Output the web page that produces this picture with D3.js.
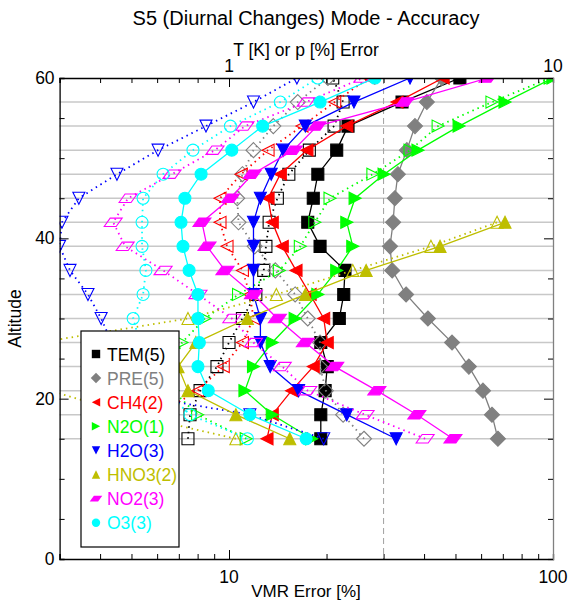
<!DOCTYPE html>
<html>
<head>
<meta charset="utf-8">
<script src="https://cdn.jsdelivr.net/npm/d3@7"></script>
<style>
  body { margin: 0; background: #fff; }
  text { font-family: "Liberation Sans", Arial, sans-serif; }
</style>
</head>
<body>
<div id="chart"></div>
<script>
// Altitudes [km], bottom to top
const altitudes = [15, 18, 21, 24, 27, 30, 33, 36, 39, 42, 45, 48, 51, 54, 57, 60];

// TEM [K] and PRE [%] are read on the top axis, the rest (VMR error %) on the bottom axis
const temSolid = [1.92, 1.92, 1.98, 2.01, 1.92, 2.19, 2.26, 2.28, 1.91, 1.75, 1.82, 1.88, 2.15, 2.33, 3.42, 5.16];
const temOpen  = [0.747, 0.758, 0.814, 0.918, 1.00, 1.10, 1.21, 1.28, 1.30, 1.33, 1.41, 1.53, 1.77, 2.11, 2.25, 2.09];
const preSolid = [6.76, 6.48, 6.08, 5.50, 4.88, 4.11, 3.52, 3.19, 3.14, 3.21, 3.25, 3.32, 3.54, 3.75, 4.08, 4.54];
const preOpen  = [2.61, 2.25, 1.99, 1.91, 1.91, 1.75, 1.60, 1.39, 1.20, 1.07, 1.06, 1.10, 1.19, 1.37, 1.63, 2.02];
const ch4Solid = [13.1, 13.6, 15.6, 18.2, 20.1, 19.6, 17.8, 16.1, 14.6, 13.6, 13.2, 14.4, 17.4, 23.1, 33.0, 45.8];
const ch4Open  = [5.9, 6.0, 8.0, 9.6, 11.0, 11.9, 11.6, 11.0, 9.86, 9.38, 9.38, 10.9, 13.2, 16.8, 21.2, 27.0];
const n2oSolid = [18.0, 13.6, 11.2, 11.9, 13.6, 16.0, 18.8, 21.5, 24.1, 23.1, 24.5, 30.1, 38.3, 51.3, 71.1, 100];
const n2oOpen  = [11.3, 8.0, 6.7, 6.7, 7.16, 8.43, 10.7, 14.3, 16.6, 18.4, 20.5, 27.8, 36.2, 44.2, 64.8, 98];
const h2oSolid = [32.8, 23.1, 16.4, 13.4, 12.5, 12.5, 11.9, 11.9, 11.9, 11.9, 12.5, 13.5, 14.7, 17.2, 24.3, 36.2];
const h2oOpen  = [19.6, 11.6, 4.3, 4.3, 4.35, 4.03, 3.67, 3.23, 3.0, 3.05, 3.44, 4.51, 6.04, 8.49, 11.9, 16.2];
const hno3Solid = [15.4, 10.5, 7.47, 6.96, 7.9, 11.4, 17.2, 26.5, 44.8, 71.1, null, null, null, null, null, null];
const hno3Open  = [10.5, 5.0, 2.8, 2.6, 2.6, 7.47, 14.0, 24.1, 42.0, 67.2, null, null, null, null, null, null];
const no2Solid = [49.1, 38.0, 28.6, 21.2, 17.2, 14.1, 11.9, 9.72, 8.55, 8.25, 10.1, 11.8, 15.8, 18.7, 34.9, 63.0];
const no2Open  = [40.3, 26.3, 17.5, 14.6, 11.9, 10.2, 8.02, 6.26, 4.78, 4.39, 4.88, 6.67, 9.05, 11.2, 17.3, 25.9];
const o3Solid  = [17.3, 11.6, 8.63, 8.02, 8.1, 8.02, 8.02, 7.53, 7.21, 7.11, 7.31, 8.20, 10.2, 12.7, 19.1, 28.2];
const o3Open   = [11.4, 7.58, 6.35, 5.7, 5.31, 5.06, 5.43, 5.54, 5.39, 5.39, 5.43, 6.26, 7.74, 10.1, 14.4, 18.8];

const legendNames = ["TEM(5)", "PRE(5)", "CH4(2)", "N2O(1)", "H2O(3)", "HNO3(2)", "NO2(3)", "O3(3)"];
const gridAltitudes = [15, 18, 21, 24, 27, 30, 33, 36, 39, 42, 45, 48, 51, 54, 57];
const refLine = 30; // dashed vertical line, VMR %

const species = [
  {name: legendNames[0], color: "#000000", marker: "square",  top: true,  solid: temSolid, open: temOpen},
  {name: legendNames[1], color: "#808080", marker: "diamond", top: true,  solid: preSolid, open: preOpen},
  {name: legendNames[2], color: "#ff0000", marker: "left",    top: false, solid: ch4Solid, open: ch4Open},
  {name: legendNames[3], color: "#00ff00", marker: "right",   top: false, solid: n2oSolid, open: n2oOpen},
  {name: legendNames[4], color: "#0000ff", marker: "down",    top: false, solid: h2oSolid, open: h2oOpen},
  {name: legendNames[5], color: "#bebe00", marker: "up",      top: false, solid: hno3Solid, open: hno3Open},
  {name: legendNames[6], color: "#ff00ff", marker: "para",    top: false, solid: no2Solid, open: no2Open},
  {name: legendNames[7], color: "#00ffff", marker: "circle",  top: false, solid: o3Solid, open: o3Open}
];

const W = 571, H = 604;
const pLeft = 59.6, pRight = 553, pTop = 78, pBottom = 559;
const fs = 17.5;

const svg = d3.select("#chart").append("svg")
  .attr("width", W).attr("height", H);

const x = d3.scaleLog().domain([3, 100]).range([pLeft, pRight]);
const xTop = d3.scaleLog().domain([0.3, 10]).range([pLeft, pRight]);
const y = d3.scaleLinear().domain([0, 60]).range([pBottom, pTop]);

svg.append("clipPath").attr("id", "clip")
  .append("rect").attr("x", pLeft).attr("y", pTop)
  .attr("width", pRight - pLeft).attr("height", pBottom - pTop);

// marker shapes, s = half size
function markerPath(type, s) {
  switch (type) {
    case "square": return `M${-s},${-s}H${s}V${s}H${-s}Z`;
    case "diamond": { const d = s * 1.25; return `M0,${-d}L${d},0L0,${d}L${-d},0Z`; }
    case "left": return `M${-s},0L${s},${-s}L${s},${s}Z`;
    case "right": return `M${s},0L${-s},${-s}L${-s},${s}Z`;
    case "down": return `M${-s},${-s}L${s},${-s}L0,${s}Z`;
    case "up": return `M${-s},${s}L${s},${s}L0,${-s}Z`;
    case "para": { const h = s * 0.7; return `M${-s * 1.5},${h}L${-s * 0.5},${-h}L${s * 1.5},${-h}L${s * 0.5},${h}Z`; }
    case "circle": return d3.symbol(d3.symbolCircle, Math.PI * s * s)();
  }
}

// grid lines
svg.append("g").selectAll("line")
  .data(gridAltitudes).join("line")
  .attr("x1", pLeft).attr("x2", pRight)
  .attr("y1", d => y(d)).attr("y2", d => y(d))
  .attr("stroke", "#c8c8c8").attr("stroke-width", 1.5);

svg.append("line")
  .attr("x1", x(refLine)).attr("x2", x(refLine))
  .attr("y1", pTop).attr("y2", pBottom)
  .attr("stroke", "#a0a0a0").attr("stroke-width", 1)
  .attr("stroke-dasharray", "6,4");

const plot = svg.append("g").attr("clip-path", "url(#clip)");

species.forEach(sp => {
  const xs = sp.top ? xTop : x;
  ["open", "solid"].forEach(kind => {
    const pts = altitudes.map((a, i) => [sp[kind][i], a]).filter(d => d[0] != null);
    const line = d3.line().x(d => xs(d[0])).y(d => y(d[1]));
    plot.append("path")
      .datum(pts)
      .attr("d", line)
      .attr("fill", "none")
      .attr("stroke", sp.color)
      .attr("stroke-width", kind === "solid" ? 1.3 : 1.8)
      .attr("stroke-dasharray", kind === "solid" ? null : "1.5,4");
    plot.selectAll(null)
      .data(pts).join("path")
      .attr("transform", d => `translate(${xs(d[0])},${y(d[1])})`)
      .attr("d", markerPath(sp.marker, 6))
      .attr("fill", kind === "solid" ? sp.color : "none")
      .attr("stroke", sp.color)
      .attr("stroke-width", 1.1);
  });
});

// axes (ticks inward)
const axisG = svg.append("g");
const bottomAxis = d3.axisBottom(x).tickValues([3,4,5,6,7,8,9,10,20,30,40,50,60,70,80,90,100])
  .tickSize(-5).tickFormat(() => "");
axisG.append("g").attr("transform", `translate(0,${pBottom})`).call(bottomAxis)
  .call(g => g.selectAll(".tick line").filter(d => d === 10 || d === 100).attr("y2", -9));
const topAxis = d3.axisTop(xTop).tickValues([0.3,0.4,0.5,0.6,0.7,0.8,0.9,1,2,3,4,5,6,7,8,9,10])
  .tickSize(-5).tickFormat(() => "");
axisG.append("g").attr("transform", `translate(0,${pTop})`).call(topAxis)
  .call(g => g.selectAll(".tick line").filter(d => d === 1 || d === 10).attr("y2", 9));
const leftAxis = d3.axisLeft(y).tickValues(d3.range(0, 61, 5)).tickSize(-5).tickFormat(() => "");
axisG.append("g").attr("transform", `translate(${pLeft},0)`).call(leftAxis)
  .call(g => g.selectAll(".tick line").filter(d => d % 20 === 0).attr("x2", 9));
const rightAxis = d3.axisRight(y).tickValues(d3.range(0, 61, 5)).tickSize(-5).tickFormat(() => "");
axisG.append("g").attr("transform", `translate(${pRight},0)`).call(rightAxis)
  .call(g => g.selectAll(".tick line").filter(d => d % 20 === 0).attr("x2", -9))
  .call(g => g.select(".domain").attr("stroke", "#808080").attr("stroke-width", 2));
axisG.selectAll(".domain").attr("stroke-width", 1.3);
axisG.selectAll(".tick line").attr("stroke", "#000");

// tick labels
const lab = svg.append("g").attr("font-size", fs).attr("fill", "#000");
[10, 100].forEach(v => lab.append("text").attr("x", x(v)).attr("y", pBottom + 24)
  .attr("text-anchor", "middle").text(v));
[1, 10].forEach(v => lab.append("text").attr("x", xTop(v)).attr("y", pTop - 6)
  .attr("text-anchor", "middle").text(v));
[0, 20, 40, 60].forEach(v => lab.append("text").attr("x", pLeft - 5).attr("y", y(v) + 6)
  .attr("text-anchor", "end").text(v));

svg.append("text").attr("x", 306).attr("y", 597).attr("text-anchor", "middle")
  .attr("font-size", 17).text("VMR Error [%]");
svg.append("text").attr("x", 306).attr("y", 56).attr("text-anchor", "middle")
  .attr("font-size", fs).text("T [K] or p [%] Error");
svg.append("text").attr("transform", `translate(21,${(pTop + pBottom) / 2}) rotate(-90)`)
  .attr("text-anchor", "middle").attr("font-size", fs).text("Altitude");
svg.append("text").attr("x", 306).attr("y", 25).attr("text-anchor", "middle")
  .attr("font-size", 20).text("S5 (Diurnal Changes) Mode - Accuracy");

// legend
const leg = svg.append("g");
leg.append("rect").attr("x", 81).attr("y", 331).attr("width", 98).attr("height", 216)
  .attr("fill", "#fff").attr("stroke", "#000").attr("stroke-width", 1.2);
species.forEach((sp, i) => {
  const yy = 354 + i * 24.1;
  leg.append("path").attr("transform", `translate(96,${yy})`)
    .attr("d", markerPath(sp.marker, 4.2)).attr("fill", sp.color);
  leg.append("text").attr("x", 107).attr("y", yy + 6.5).attr("font-size", fs)
    .attr("fill", sp.color).text(sp.name);
});
</script>
</body>
</html>
